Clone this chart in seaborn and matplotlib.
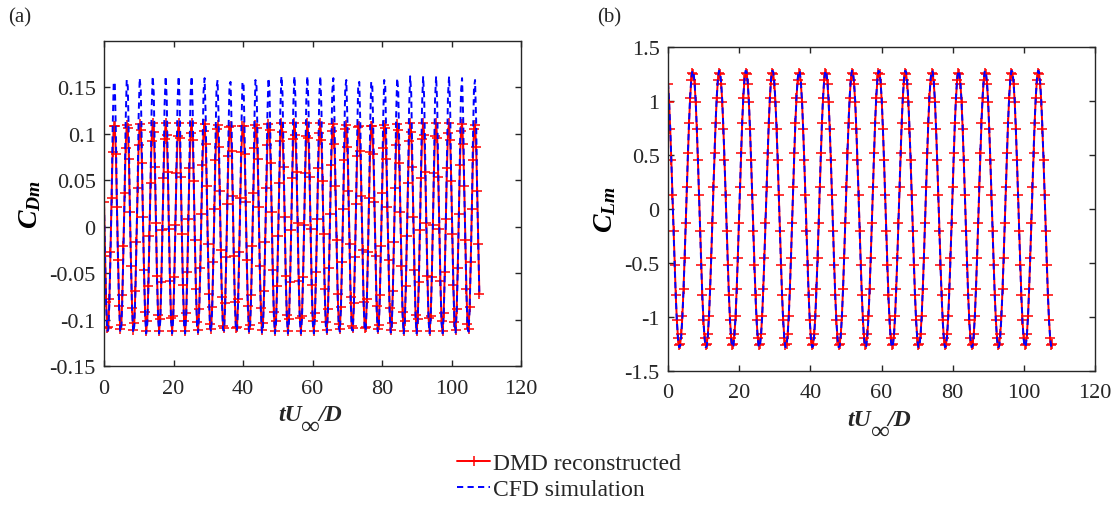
import numpy as np
import matplotlib
matplotlib.use("Agg")
import matplotlib.pyplot as plt
import seaborn as sns
from matplotlib.ticker import FixedLocator, FixedFormatter

# ---------------- data ----------------
sample_dt = 0.3113  # time step between stored samples (tU/D)

cd_dmd = [
    0.027, -0.031, -0.081, -0.109, -0.108, -0.078, -0.027, 0.031, 0.081, 0.109, 0.108, 0.078,
    0.021, -0.036, -0.085, -0.110, -0.106, -0.073, -0.021, 0.036, 0.085, 0.110, 0.106, 0.073,
    0.016, -0.042, -0.088, -0.111, -0.104, -0.069, -0.016, 0.042, 0.088, 0.111, 0.104, 0.069,
    0.010, -0.047, -0.092, -0.112, -0.102, -0.064, -0.010, 0.047, 0.092, 0.112, 0.102, 0.064,
    0.004, -0.053, -0.095, -0.112, -0.099, -0.059, -0.004, 0.053, 0.095, 0.112, 0.099, 0.059,
    -0.002, -0.058, -0.098, -0.112, -0.096, -0.054, 0.002, 0.058, 0.098, 0.112, 0.096, 0.054,
    -0.008, -0.063, -0.101, -0.112, -0.093, -0.049, 0.008, 0.063, 0.101, 0.112, 0.093, 0.049,
    -0.014, -0.067, -0.103, -0.111, -0.089, -0.044, 0.014, 0.067, 0.103, 0.111, 0.089, 0.044,
    -0.019, -0.072, -0.105, -0.110, -0.086, -0.038, 0.019, 0.072, 0.105, 0.110, 0.086, 0.038,
    -0.025, -0.076, -0.107, -0.109, -0.082, -0.033, 0.025, 0.076, 0.107, 0.109, 0.082, 0.033,
    -0.031, -0.081, -0.109, -0.108, -0.078, -0.027, 0.031, 0.081, 0.109, 0.108, 0.078, 0.027,
    -0.036, -0.085, -0.110, -0.106, -0.073, -0.021, 0.036, 0.085, 0.110, 0.106, 0.073, 0.021,
    -0.042, -0.088, -0.111, -0.104, -0.069, -0.016, 0.042, 0.088, 0.111, 0.104, 0.069, 0.016,
    -0.047, -0.092, -0.112, -0.102, -0.064, -0.010, 0.047, 0.092, 0.112, 0.102, 0.064, 0.010,
    -0.053, -0.095, -0.112, -0.099, -0.059, -0.004, 0.053, 0.095, 0.112, 0.099, 0.059, 0.004,
    -0.058, -0.098, -0.112, -0.096, -0.054, 0.002, 0.058, 0.098, 0.112, 0.096, 0.054, -0.002,
    -0.063, -0.101, -0.112, -0.093, -0.049, 0.008, 0.063, 0.101, 0.112, 0.093, 0.049, -0.008,
    -0.067, -0.103, -0.111, -0.089, -0.044, 0.014, 0.067, 0.103, 0.111, 0.089, 0.044, -0.014,
    -0.072, -0.105, -0.110, -0.086, -0.038, 0.019, 0.072, 0.105, 0.110, 0.086, 0.038, -0.019,
    -0.076, -0.107, -0.109, -0.082, -0.033, 0.025, 0.076, 0.107, 0.109, 0.082, 0.033, -0.025,
    -0.081, -0.109, -0.108, -0.078, -0.027, 0.031, 0.081, 0.109, 0.108, 0.078, 0.027, -0.031,
    -0.085, -0.110, -0.106, -0.073, -0.021, 0.036, 0.085, 0.110, 0.106, 0.073, 0.021, -0.036,
    -0.088, -0.111, -0.104, -0.069, -0.016, 0.042, 0.088, 0.111, 0.104, 0.069, 0.016, -0.042,
    -0.092, -0.112, -0.102, -0.064, -0.010, 0.047, 0.092, 0.112, 0.102, 0.064, 0.010, -0.047,
    -0.095, -0.112, -0.099, -0.059, -0.004, 0.053, 0.095, 0.112, 0.099, 0.059, 0.004, -0.053,
    -0.098, -0.112, -0.096, -0.054, 0.002, 0.058, 0.098, 0.112, 0.096, 0.054, -0.002, -0.058,
    -0.101, -0.112, -0.093, -0.049, 0.008, 0.063, 0.101, 0.112, 0.093, 0.049, -0.008, -0.063,
    -0.103, -0.111, -0.089, -0.044, 0.014, 0.067, 0.103, 0.111, 0.089, 0.044, -0.014, -0.067,
    -0.105, -0.110, -0.086, -0.038, 0.019, 0.072, 0.105, 0.110, 0.086, 0.038, -0.019, -0.072,
]

cd_cfd = [
    0.024, -0.034, -0.084, -0.112, -0.111, -0.081, -0.030, 0.028, 0.106, 0.156, 0.154, 0.100,
    0.018, -0.039, -0.088, -0.113, -0.109, -0.076, -0.024, 0.033, 0.113, 0.158, 0.151, 0.091,
    0.013, -0.045, -0.091, -0.114, -0.107, -0.072, -0.019, 0.039, 0.118, 0.160, 0.147, 0.084,
    0.007, -0.050, -0.095, -0.115, -0.105, -0.067, -0.013, 0.044, 0.126, 0.162, 0.144, 0.075,
    0.001, -0.056, -0.098, -0.115, -0.102, -0.062, -0.007, 0.055, 0.131, 0.162, 0.138, 0.066,
    -0.005, -0.061, -0.101, -0.115, -0.099, -0.057, -0.001, 0.064, 0.136, 0.162, 0.133, 0.057,
    -0.011, -0.066, -0.104, -0.115, -0.096, -0.052, 0.005, 0.073, 0.142, 0.162, 0.127, 0.046,
    -0.017, -0.070, -0.106, -0.114, -0.092, -0.047, 0.011, 0.081, 0.145, 0.160, 0.120, 0.041,
    -0.022, -0.075, -0.108, -0.113, -0.089, -0.041, 0.016, 0.090, 0.149, 0.158, 0.115, 0.035,
    -0.028, -0.079, -0.110, -0.112, -0.085, -0.036, 0.022, 0.097, 0.153, 0.156, 0.108, 0.030,
    -0.034, -0.084, -0.112, -0.111, -0.081, -0.030, 0.028, 0.106, 0.156, 0.154, 0.100, 0.024,
    -0.039, -0.088, -0.113, -0.109, -0.076, -0.024, 0.033, 0.113, 0.158, 0.151, 0.091, 0.018,
    -0.045, -0.091, -0.114, -0.107, -0.072, -0.019, 0.039, 0.118, 0.160, 0.147, 0.084, 0.013,
    -0.050, -0.095, -0.115, -0.105, -0.067, -0.013, 0.044, 0.126, 0.162, 0.144, 0.075, 0.007,
    -0.056, -0.098, -0.115, -0.102, -0.062, -0.007, 0.055, 0.131, 0.162, 0.138, 0.066, 0.001,
    -0.061, -0.101, -0.115, -0.099, -0.057, -0.001, 0.064, 0.136, 0.162, 0.133, 0.057, -0.005,
    -0.066, -0.104, -0.115, -0.096, -0.052, 0.005, 0.073, 0.142, 0.162, 0.127, 0.046, -0.011,
    -0.070, -0.106, -0.114, -0.092, -0.047, 0.011, 0.081, 0.145, 0.160, 0.120, 0.041, -0.017,
    -0.075, -0.108, -0.113, -0.089, -0.041, 0.016, 0.090, 0.149, 0.158, 0.115, 0.035, -0.022,
    -0.079, -0.110, -0.112, -0.085, -0.036, 0.022, 0.097, 0.153, 0.156, 0.108, 0.030, -0.028,
    -0.084, -0.112, -0.111, -0.081, -0.030, 0.028, 0.106, 0.156, 0.154, 0.100, 0.024, -0.034,
    -0.088, -0.113, -0.109, -0.076, -0.024, 0.033, 0.113, 0.158, 0.151, 0.091, 0.018, -0.039,
    -0.091, -0.114, -0.107, -0.072, -0.019, 0.039, 0.118, 0.160, 0.147, 0.084, 0.013, -0.045,
    -0.095, -0.115, -0.105, -0.067, -0.013, 0.044, 0.126, 0.162, 0.144, 0.075, 0.007, -0.050,
    -0.098, -0.115, -0.102, -0.062, -0.007, 0.055, 0.131, 0.162, 0.138, 0.066, 0.001, -0.056,
    -0.101, -0.115, -0.099, -0.057, -0.001, 0.064, 0.136, 0.162, 0.133, 0.057, -0.005, -0.061,
    -0.104, -0.115, -0.096, -0.052, 0.005, 0.073, 0.142, 0.162, 0.127, 0.046, -0.011, -0.066,
    -0.106, -0.114, -0.092, -0.047, 0.011, 0.081, 0.145, 0.160, 0.120, 0.041, -0.017, -0.070,
    -0.108, -0.113, -0.089, -0.041, 0.016, 0.090, 0.149, 0.158, 0.115, 0.035, -0.022, -0.075,
]

cl_dmd = [
    1.16, 0.99, 0.74, 0.45, 0.13, -0.20, -0.52, -0.80, -1.03, -1.19, -1.26, -1.25, -1.16, -0.99, -0.74, -0.45, -0.13, 0.20, 0.52, 0.80, 1.03, 1.19, 1.26, 1.25,
    1.16, 0.99, 0.74, 0.45, 0.13, -0.20, -0.52, -0.80, -1.03, -1.19, -1.26, -1.25, -1.16, -0.99, -0.74, -0.45, -0.13, 0.20, 0.52, 0.80, 1.03, 1.19, 1.26, 1.25,
    1.16, 0.99, 0.74, 0.45, 0.13, -0.20, -0.52, -0.80, -1.03, -1.19, -1.26, -1.25, -1.16, -0.99, -0.74, -0.45, -0.13, 0.20, 0.52, 0.80, 1.03, 1.19, 1.26, 1.25,
    1.16, 0.99, 0.74, 0.45, 0.13, -0.20, -0.52, -0.80, -1.03, -1.19, -1.26, -1.25, -1.16, -0.99, -0.74, -0.45, -0.13, 0.20, 0.52, 0.80, 1.03, 1.19, 1.26, 1.25,
    1.16, 0.99, 0.74, 0.45, 0.13, -0.20, -0.52, -0.80, -1.03, -1.19, -1.26, -1.25, -1.16, -0.99, -0.74, -0.45, -0.13, 0.20, 0.52, 0.80, 1.03, 1.19, 1.26, 1.25,
    1.16, 0.99, 0.74, 0.45, 0.13, -0.20, -0.52, -0.80, -1.03, -1.19, -1.26, -1.25, -1.16, -0.99, -0.74, -0.45, -0.13, 0.20, 0.52, 0.80, 1.03, 1.19, 1.26, 1.25,
    1.16, 0.99, 0.74, 0.45, 0.13, -0.20, -0.52, -0.80, -1.03, -1.19, -1.26, -1.25, -1.16, -0.99, -0.74, -0.45, -0.13, 0.20, 0.52, 0.80, 1.03, 1.19, 1.26, 1.25,
    1.16, 0.99, 0.74, 0.45, 0.13, -0.20, -0.52, -0.80, -1.03, -1.19, -1.26, -1.25, -1.16, -0.99, -0.74, -0.45, -0.13, 0.20, 0.52, 0.80, 1.03, 1.19, 1.26, 1.25,
    1.16, 0.99, 0.74, 0.45, 0.13, -0.20, -0.52, -0.80, -1.03, -1.19, -1.26, -1.25, -1.16, -0.99, -0.74, -0.45, -0.13, 0.20, 0.52, 0.80, 1.03, 1.19, 1.26, 1.25,
    1.16, 0.99, 0.74, 0.45, 0.13, -0.20, -0.52, -0.80, -1.03, -1.19, -1.26, -1.25, -1.16, -0.99, -0.74, -0.45, -0.13, 0.20, 0.52, 0.80, 1.03, 1.19, 1.26, 1.25,
    1.16, 0.99, 0.74, 0.45, 0.13, -0.20, -0.52, -0.80, -1.03, -1.19, -1.26, -1.25, -1.16, -0.99, -0.74, -0.45, -0.13, 0.20, 0.52, 0.80, 1.03, 1.19, 1.26, 1.25,
    1.16, 0.99, 0.74, 0.45, 0.13, -0.20, -0.52, -0.80, -1.03, -1.19, -1.26, -1.25, -1.16, -0.99, -0.74, -0.45, -0.13, 0.20, 0.52, 0.80, 1.03, 1.19, 1.26, 1.25,
    1.16, 0.99, 0.74, 0.45, 0.13, -0.20, -0.52, -0.80, -1.03, -1.19, -1.26, -1.25, -1.16, -0.99, -0.74, -0.45, -0.13, 0.20, 0.52, 0.80, 1.03, 1.19, 1.26, 1.25,
    1.16, 0.99, 0.74, 0.45, 0.13, -0.20, -0.52, -0.80, -1.03, -1.19, -1.26, -1.25, -1.16, -0.99, -0.74, -0.45, -0.13, 0.20, 0.52, 0.80, 1.03, 1.19, 1.26, 1.25,
    1.16, 0.99, 0.74, 0.45, 0.13, -0.20, -0.52, -0.80, -1.03, -1.19, -1.26, -1.25,
]

cl_cfd = [
    1.17, 1.00, 0.75, 0.46, 0.13, -0.20, -0.53, -0.81, -1.04, -1.20, -1.28, -1.27, -1.17, -1.00, -0.75, -0.46, -0.13, 0.20, 0.53, 0.81, 1.04, 1.20, 1.28, 1.27,
    1.17, 1.00, 0.75, 0.46, 0.13, -0.20, -0.53, -0.81, -1.04, -1.20, -1.28, -1.27, -1.17, -1.00, -0.75, -0.46, -0.13, 0.20, 0.53, 0.81, 1.04, 1.20, 1.28, 1.27,
    1.17, 1.00, 0.75, 0.46, 0.13, -0.20, -0.53, -0.81, -1.04, -1.20, -1.28, -1.27, -1.17, -1.00, -0.75, -0.46, -0.13, 0.20, 0.53, 0.81, 1.04, 1.20, 1.28, 1.27,
    1.17, 1.00, 0.75, 0.46, 0.13, -0.20, -0.53, -0.81, -1.04, -1.20, -1.28, -1.27, -1.17, -1.00, -0.75, -0.46, -0.13, 0.20, 0.53, 0.81, 1.04, 1.20, 1.28, 1.27,
    1.17, 1.00, 0.75, 0.46, 0.13, -0.20, -0.53, -0.81, -1.04, -1.20, -1.28, -1.27, -1.17, -1.00, -0.75, -0.46, -0.13, 0.20, 0.53, 0.81, 1.04, 1.20, 1.28, 1.27,
    1.17, 1.00, 0.75, 0.46, 0.13, -0.20, -0.53, -0.81, -1.04, -1.20, -1.28, -1.27, -1.17, -1.00, -0.75, -0.46, -0.13, 0.20, 0.53, 0.81, 1.04, 1.20, 1.28, 1.27,
    1.17, 1.00, 0.75, 0.46, 0.13, -0.20, -0.53, -0.81, -1.04, -1.20, -1.28, -1.27, -1.17, -1.00, -0.75, -0.46, -0.13, 0.20, 0.53, 0.81, 1.04, 1.20, 1.28, 1.27,
    1.17, 1.00, 0.75, 0.46, 0.13, -0.20, -0.53, -0.81, -1.04, -1.20, -1.28, -1.27, -1.17, -1.00, -0.75, -0.46, -0.13, 0.20, 0.53, 0.81, 1.04, 1.20, 1.28, 1.27,
    1.17, 1.00, 0.75, 0.46, 0.13, -0.20, -0.53, -0.81, -1.04, -1.20, -1.28, -1.27, -1.17, -1.00, -0.75, -0.46, -0.13, 0.20, 0.53, 0.81, 1.04, 1.20, 1.28, 1.27,
    1.17, 1.00, 0.75, 0.46, 0.13, -0.20, -0.53, -0.81, -1.04, -1.20, -1.28, -1.27, -1.17, -1.00, -0.75, -0.46, -0.13, 0.20, 0.53, 0.81, 1.04, 1.20, 1.28, 1.27,
    1.17, 1.00, 0.75, 0.46, 0.13, -0.20, -0.53, -0.81, -1.04, -1.20, -1.28, -1.27, -1.17, -1.00, -0.75, -0.46, -0.13, 0.20, 0.53, 0.81, 1.04, 1.20, 1.28, 1.27,
    1.17, 1.00, 0.75, 0.46, 0.13, -0.20, -0.53, -0.81, -1.04, -1.20, -1.28, -1.27, -1.17, -1.00, -0.75, -0.46, -0.13, 0.20, 0.53, 0.81, 1.04, 1.20, 1.28, 1.27,
    1.17, 1.00, 0.75, 0.46, 0.13, -0.20, -0.53, -0.81, -1.04, -1.20, -1.28, -1.27, -1.17, -1.00, -0.75, -0.46, -0.13, 0.20, 0.53, 0.81, 1.04, 1.20, 1.28, 1.27,
    1.17, 1.00, 0.75, 0.46, 0.13, -0.20, -0.53, -0.81, -1.04, -1.20, -1.28, -1.27, -1.17, -1.00, -0.75, -0.46, -0.13, 0.20, 0.53, 0.81, 1.04, 1.20, 1.28, 1.27,
    1.17, 1.00, 0.75, 0.46, 0.13, -0.20, -0.53, -0.81, -1.04, -1.20, -1.28, -1.27,
]

x_ticks = [0, 20, 40, 60, 80, 100, 120]
x_tick_labels = ["0", "20", "40", "60", "80", "100", "120"]
cd_ticks = [-0.15, -0.1, -0.05, 0, 0.05, 0.1, 0.15]
cd_tick_labels = ["-0.15", "-0.1", "-0.05", "0", "0.05", "0.1", "0.15"]
cl_ticks = [-1.5, -1, -0.5, 0, 0.5, 1, 1.5]
cl_tick_labels = ["-1.5", "-1", "-0.5", "0", "0.5", "1", "1.5"]
series_labels = ["DMD reconstructed", "CFD simulation"]
panel_labels = ["(a)", "(b)"]
y_labels = [r"$C_{Dm}$", r"$C_{Lm}$"]
x_label_parts = ["tU", "\u221e", "/D"]

# ---------------- style ----------------
sns.set_style("ticks")
plt.rcParams["font.family"] = ["Liberation Serif", "DejaVu Serif"]
plt.rcParams["mathtext.fontset"] = "custom"
plt.rcParams["mathtext.it"] = "Liberation Serif:bold:italic"
plt.rcParams["mathtext.rm"] = "Liberation Serif:bold"
plt.rcParams["mathtext.bf"] = "Liberation Serif:bold"
plt.rcParams["axes.unicode_minus"] = False

AX_COL = "#262626"
RED = "#ff0000"
BLUE = "#0000ff"
W, H = 1120, 506

fig = plt.figure(figsize=(11.2, 5.06), dpi=100)
ax_a = fig.add_axes([104 / W, 1 - 367 / H, 417 / W, 325 / H])
ax_b = fig.add_axes([668 / W, 1 - 372 / H, 427 / W, 324 / H])


def draw(ax, dmd, cfd):
    tt = np.arange(len(dmd)) * sample_dt
    sns.lineplot(x=tt, y=dmd, ax=ax, color=RED, linewidth=1.4, marker="+",
                 markersize=6.5, markeredgewidth=1.1, markeredgecolor=RED,
                 markerfacecolor=RED, sort=False, estimator=None, legend=False)
    sns.lineplot(x=tt, y=cfd, ax=ax, color=BLUE, linewidth=1.4,
                 linestyle=(0, (3.2, 2.2)), sort=False, estimator=None,
                 legend=False)


draw(ax_a, cd_dmd, cd_cfd)
draw(ax_b, cl_dmd, cl_cfd)

configs = [
    (ax_a, (-0.15, 0.2), cd_ticks, cd_tick_labels, -0.146, 312.5, 421),
    (ax_b, (-1.5, 1.5), cl_ticks, cl_tick_labels, -0.117, 881.5, 426),
]
for i, (ax, ylim, yt, ytl, ylx, cx, base) in enumerate(configs):
    ax.set_xlim(0, 120)
    ax.set_ylim(*ylim)
    ax.xaxis.set_major_locator(FixedLocator(x_ticks))
    ax.xaxis.set_major_formatter(FixedFormatter(x_tick_labels))
    ax.yaxis.set_major_locator(FixedLocator(yt))
    ax.yaxis.set_major_formatter(FixedFormatter(ytl))
    ax.tick_params(direction="in", length=4, width=1.0, top=True, right=True,
                   labelsize=16, colors=AX_COL)
    ax.tick_params(axis="x", pad=9)
    ax.tick_params(axis="y", pad=6)
    for s in ax.spines.values():
        s.set_visible(True)
        s.set_color(AX_COL)
        s.set_linewidth(1.0)
    ax.set_ylabel(y_labels[i], fontsize=20, color="black")
    ax.yaxis.set_label_coords(ylx, 0.5)
    ax.set_xlabel("")
    # x label "tU∞/D" with a dropped infinity subscript
    fig.text((cx - 34) / W, 1 - base / H, x_label_parts[0], fontsize=17,
             fontweight="bold", fontstyle="italic", ha="left", va="baseline")
    fig.text((cx - 11) / W, 1 - (base + 13) / H, x_label_parts[1], fontsize=19,
             ha="left", va="baseline")
    fig.text((cx + 6) / W, 1 - base / H, x_label_parts[2], fontsize=17,
             fontweight="bold", fontstyle="italic", ha="left", va="baseline")

fig.text(8 / W, 1 - 18 / H, panel_labels[0], fontsize=15, va="center", ha="left")
fig.text(597 / W, 1 - 18 / H, panel_labels[1], fontsize=15, va="center", ha="left")

handles = ax_a.lines[:2]
fig.legend(handles, series_labels, loc="center", bbox_to_anchor=(0.508, 0.057),
           frameon=False, fontsize=17, handlelength=1.4, handletextpad=0.1,
           labelspacing=0.18, borderaxespad=0, borderpad=0)

fig.savefig("out.png", dpi=100)
